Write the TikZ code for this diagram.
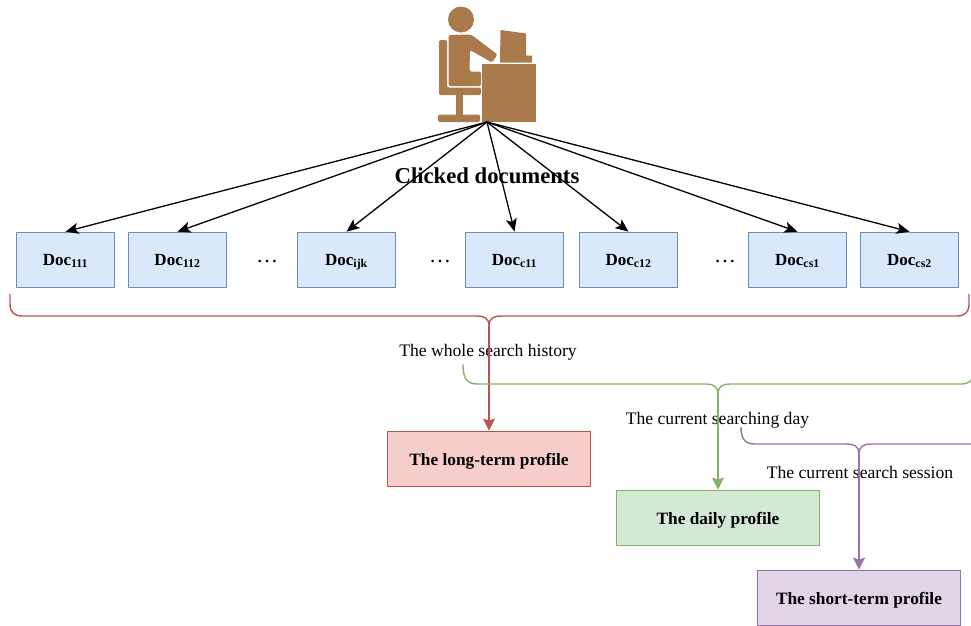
\documentclass[tikz,border=0pt]{standalone}
\usepackage{fontspec}
\setmainfont{Liberation Serif}
\usetikzlibrary{arrows.meta}
\definecolor{docline}{HTML}{6C8EBF}
\definecolor{docfill}{HTML}{DAE8FC}
\definecolor{longline}{HTML}{B85450}
\definecolor{longfill}{HTML}{F8CECC}
\definecolor{dayline}{HTML}{82B366}
\definecolor{dayfill}{HTML}{D5E8D4}
\definecolor{sessline}{HTML}{9673A6}
\definecolor{sessfill}{HTML}{E1D5E7}
\definecolor{iconbrown}{HTML}{A97A4C}
\tikzset{
	doc/.style={draw=docline,fill=docfill,line width=1.2pt,minimum width=98pt,minimum height=55.5pt,inner sep=0pt,text height=14pt,text depth=4pt,font=\fontsize{17}{20}\selectfont\bfseries},
	profile/.style={line width=1.3pt,minimum width=203pt,minimum height=55.5pt,inner sep=0pt,text height=15pt,text depth=3pt,font=\fontsize{17.3}{20}\selectfont\bfseries},
	caption/.style={inner sep=0pt,font=\fontsize{17.6}{20}\selectfont},
	dots/.style={inner sep=0pt,font=\fontsize{22}{24}\selectfont},
	bracket/.style={line width=1.4pt},
	colourtip/.style={line width=1.4pt,>={Stealth[length=12pt,width=12pt,inset=2pt]}}
}
\begin{document}
\begin{tikzpicture}[x=1pt,y=-1pt,>={Stealth[length=13pt,width=11pt,inset=3pt]}]
\useasboundingbox (0,0) rectangle (971,625);
% Icon
\fill[iconbrown] (461,19.5) circle (13);
\fill[iconbrown,rounded corners=1.5pt] (448.5,35)--(471,34.5)--(497.5,54.5)--(492,62.5)--(470,50)--(469.5,71.5)--(481,71.5)--(481,86)--(448.5,86)--cycle;
\fill[iconbrown,rounded corners=2pt] (439,40)--(447,40)--(447,87.5)--(481,87.5)--(481,95)--(439,95)--cycle;
\fill[iconbrown] (455.5,95)--(462.5,95)--(462.5,115)--(455.5,115)--cycle;
\fill[iconbrown,rounded corners=2pt] (438,114.5)--(480,114.5)--(480,122)--(438,122)--cycle;
\fill[iconbrown] (481.5,63.5) rectangle (536,122);
\fill[iconbrown,rounded corners=0.5pt] (500.5,30)--(526,33.5)--(526,55.5)--(532,55.5)--(532,62.5)--(500,62.5)--cycle;
\coordinate (node user) at (487,122);
% Doc boxes
\draw(65.5,260)node[doc](node doc a){Doc\textsubscript{111}}
		 (177.5,260)node[doc](node doc b){Doc\textsubscript{112}}
		 (346.5,260)node[doc](node doc c){Doc\textsubscript{ijk}}
		 (514.5,260)node[doc](node doc d){Doc\textsubscript{c11}}
		 (628.5,260)node[doc](node doc e){Doc\textsubscript{c12}}
		 (797.5,260)node[doc](node doc f){Doc\textsubscript{cs1}}
		 (909.5,260)node[doc](node doc g){Doc\textsubscript{cs2}};
% Dots between boxes
\draw(267,262)node[dots](node dots a){\dots}
		 (440,262)node[dots](node dots b){\dots}
		 (725,262)node[dots](node dots c){\dots};
% Arrows from user to docs
\foreach \name in {a,b,c,d,e,f,g}
	\draw[->,line width=1.3pt](node user)--(node doc \name.north);
\draw(487,176)node[inner sep=0pt,font=\fontsize{22.7}{26}\selectfont\bfseries](node clicked){Clicked documents};
% Profile boxes
\draw(489,459)node[profile,draw=longline,fill=longfill](node long){The long-term profile}
		 (718,518)node[profile,draw=dayline,fill=dayfill](node daily){The daily profile}
		 (859,598)node[profile,draw=sessline,fill=sessfill](node short){The short-term profile};
% Captions
\draw(488,352)node[caption](node whole){The whole search history}
		 (717.5,420)node[caption](node day){The current searching day}
		 (860,472)node[caption](node session){The current search session};
% Red bracket
\draw[bracket,longline](10,294)--(10,304).. controls (10,312) and (14,316) .. (22,316)--(477,316).. controls (484,316) and (489,318) .. (489,326).. controls (489,318) and (494,316) .. (501,316)--(957,316).. controls (965,316) and (969,312) .. (969,304)--(969,294);
\coordinate (tip long) at (489,326);
\draw[->,longline,colourtip](tip long)--(node long.north);
% Green bracket
\draw[bracket,dayline](463,364).. controls (463,379) and (467,384) .. (478,384)--(706,384).. controls (713,384) and (718,386) .. (718,394).. controls (718,386) and (723,384) .. (730,384)--(962,384).. controls (968,384) and (972,381) .. (973,376);
\coordinate (tip daily) at (718,394);
\draw[->,dayline,colourtip](tip daily)--(node daily.north);
% Purple bracket
\draw[bracket,sessline](741,427).. controls (741,439) and (745,444) .. (755,444)--(847,444).. controls (854,444) and (859,446) .. (859,454).. controls (859,446) and (864,444) .. (871,444)--(975,444);
\coordinate (tip short) at (859,454);
\draw[->,sessline,colourtip](tip short)--(node short.north);
\end{tikzpicture}
\end{document}
